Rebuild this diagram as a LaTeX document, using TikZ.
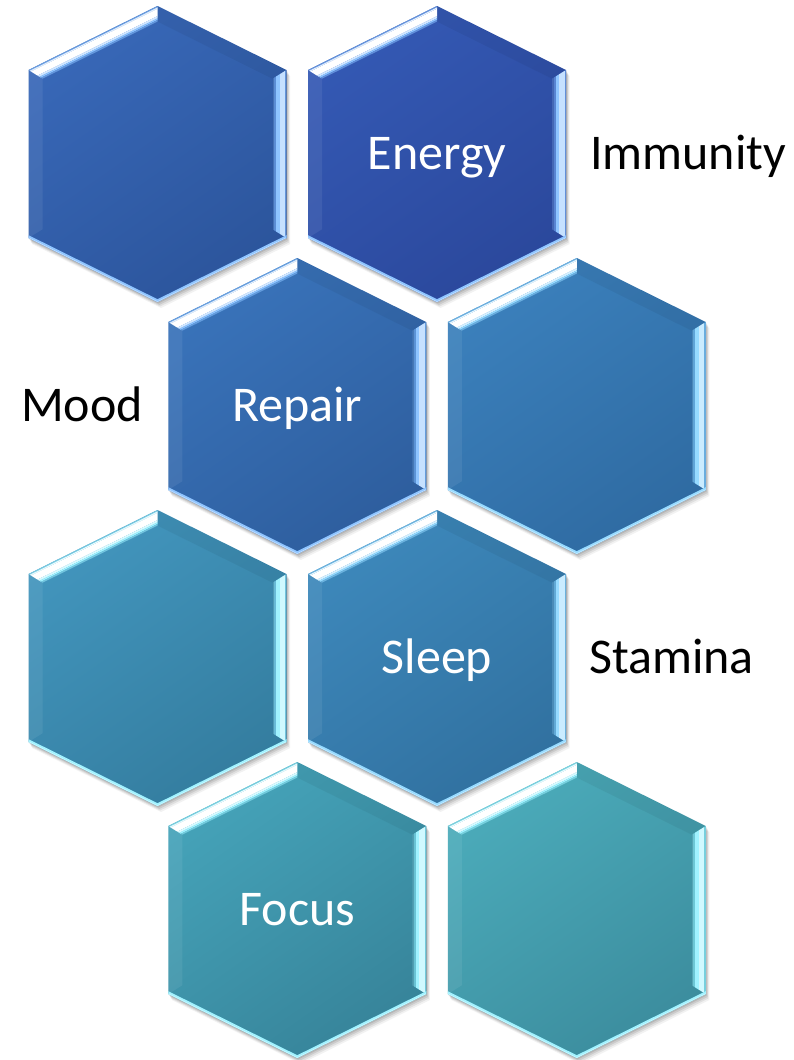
\documentclass[tikz,border=0pt]{standalone}
\usepackage{fontspec}
\setmainfont{Carlito}
% outline of one cell, relative to its centre (1 unit = 1pt)
\newcommand\hexoutline{(0,148)--(129,84)--(129,-84)--(0,-148)--(-129,-84)--(-129,84)--cycle}
\definecolor{hAl}{HTML}{3868B8}\definecolor{hAd}{HTML}{2C559C}
\definecolor{hBl}{HTML}{3459B4}\definecolor{hBd}{HTML}{2B489C}
\definecolor{hCl}{HTML}{3973BA}\definecolor{hCd}{HTML}{2E5E9E}
\definecolor{hDl}{HTML}{3B80BC}\definecolor{hDd}{HTML}{2F6BA2}
\definecolor{hEl}{HTML}{4295BD}\definecolor{hEd}{HTML}{347D9F}
\definecolor{hFl}{HTML}{3D88BB}\definecolor{hFd}{HTML}{3171A0}
\definecolor{hGl}{HTML}{45A3B9}\definecolor{hGd}{HTML}{37849A}
\definecolor{hHl}{HTML}{4BABBA}\definecolor{hHd}{HTML}{3C8D9E}
\definecolor{glowA}{HTML}{8EC4FF}
\definecolor{glowB}{HTML}{96DAFF}
\definecolor{glowC}{HTML}{A0F2FF}
\begin{document}
\begin{tikzpicture}[x=1pt,y=1pt,
  celltext/.style={text=white,font=\fontsize{50}{60}\selectfont,anchor=base,inner sep=0pt},
  sidetext/.style={text=black,font=\fontsize{50}{60}\selectfont,anchor=base west,inner sep=0pt},
  pics/hexcell/.style n args={3}{code={
    % soft drop shadow towards the lower right
    \foreach \s/\o in {6/0.05,4.5/0.07,3/0.09,1.5/0.1}{
      \fill[black,opacity=\o,shift={(\s*0.6,-\s)}] \hexoutline;
    }
    % body with a diagonal gradient
    \shade[top color=#1,bottom color=#2,shading angle=35] \hexoutline;
    % upper left bevel: bright stripe, drawn in a frame along the edge
    \begin{scope}
      \clip (-129,84)--(0,148)--(0,132.4)--(-115,75.3)--cycle;
      \begin{scope}[shift={(-129,84)},rotate=26.38]
        \fill[#3!55!#1]    (-20,0)    rectangle (170,-1.2);
        \fill[#3!30!white] (-20,-1.2) rectangle (170,-2.5);
        \fill[white]       (-20,-2.5) rectangle (170,-9);
        \fill[#3!40!white] (-20,-9)   rectangle (170,-11);
        \fill[#3]          (-20,-11)  rectangle (170,-12.5);
        \fill[#3!50!#1]    (-20,-12.5) rectangle (170,-15);
      \end{scope}
    \end{scope}
    % upper right bevel: slightly shaded
    \begin{scope}
      \clip (0,148)--(129,84)--(115,75.3)--(0,132.4)--cycle;
      \fill[black,opacity=0.05] (-10,170) rectangle (140,60);
    \end{scope}
    % right bevel: pale band
    \begin{scope}
      \clip (129,84)--(129,-84)--(115,-75.3)--(115,75.3)--cycle;
      \fill[#3!50!#1]    (127.5,200) rectangle (129,-200);
      \fill[#3!50!white] (122,200)   rectangle (127.5,-200);
      \fill[#3]          (118.5,200) rectangle (122,-200);
      \fill[#3!40!#1]    (116.5,200) rectangle (118.5,-200);
      \fill[#3!25!#2]    (115,200)   rectangle (116.5,-200);
    \end{scope}
    % left bevel: faint light
    \begin{scope}
      \clip (-129,84)--(-129,-84)--(-115,-75.3)--(-115,75.3)--cycle;
      \fill[white,opacity=0.07] (-140,100) rectangle (-110,-100);
    \end{scope}
    % lower edges: thin glowing rim
    \begin{scope}
      \clip \hexoutline;
      \draw[line width=5, #3] (140,-78.5)--(0,-148)--(-140,-78.5);
      \draw[line width=1.5, #3!60!white] (129,-84)--(0,-148)--(-129,-84);
    \end{scope}
  }}]
\useasboundingbox (0,0) rectangle (794,-1060);
\fill[white] (0,0) rectangle (794,-1060);

% row 1
\pic at (157.5,-154) {hexcell={hAl}{hAd}{glowA}};
\pic at (437,-154)   {hexcell={hBl}{hBd}{glowA}};
% row 2
\pic at (297.25,-406) {hexcell={hCl}{hCd}{glowA}};
\pic at (576.75,-406) {hexcell={hDl}{hDd}{glowB}};
% row 3
\pic at (157.5,-658) {hexcell={hEl}{hEd}{glowC}};
\pic at (437,-658)   {hexcell={hFl}{hFd}{glowB}};
% row 4
\pic at (297.25,-910) {hexcell={hGl}{hGd}{glowC}};
\pic at (576.75,-910) {hexcell={hHl}{hHd}{glowC}};

% words inside the cells
\node[celltext] (energy) at (437,-169)    {Energy};
\node[celltext] (repair) at (297.25,-421) {Repair};
\node[celltext] (sleep)  at (437,-673)    {Sleep};
\node[celltext] (focus)  at (297.25,-925) {Focus};

% words beside the cells
\node[sidetext] (immunity) at (590,-169) {Immunity};
\node[sidetext] (mood)     at (21,-421)  {Mood};
\node[sidetext] (stamina)  at (589,-673) {Stamina};
\end{tikzpicture}
\end{document}
